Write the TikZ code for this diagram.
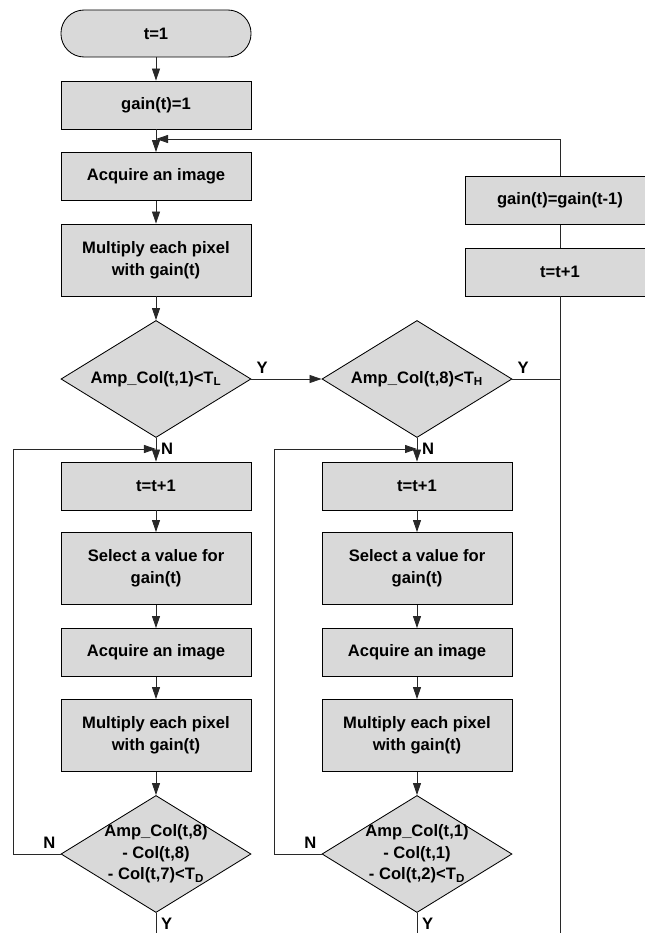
\documentclass[tikz,border=0pt]{standalone}
\usepackage{fontspec}
\setmainfont{Liberation Sans}
\usepackage{color}
\usetikzlibrary{shapes.geometric,arrows.meta}
\definecolor{boxgray}{RGB}{217,217,217}
\definecolor{linegray}{RGB}{40,40,40}

\begin{document}
\begin{tikzpicture}[x=0.025cm, y=-0.025cm, >={Triangle[length=3mm,width=2mm]},
		every node/.style={font=\bfseries\fontsize{11.8}{15.4}\selectfont},
		procbox/.style={draw, line width=0.6pt, fill=boxgray, minimum width=4.75cm, minimum height=1.2cm, inner sep=0pt, align=center},
		tallbox/.style={procbox, minimum height=1.8cm},
		termbox/.style={procbox, minimum height=1.175cm, rounded corners=0.58cm},
		decbox/.style={draw, line width=0.6pt, fill=boxgray, diamond, aspect=1.62, minimum width=4.75cm, minimum height=2.925cm, inner sep=-3pt, align=center},
		flow/.style={draw=linegray, line width=0.6pt}]

								\useasboundingbox (0,0) rectangle (644,933);

								% main column
								\node[termbox] (start) at (156,33.5) {t=1};
								\node[procbox] (gain0) at (156,105) {gain(t)=1};
								\node[procbox] (acq0) at (156,176.5) {Acquire an image};
								\node[tallbox] (mul0) at (156,260) {Multiply each pixel\\with gain(t)};
								\node[decbox] (lowchk) at (156,379) {Amp\_Col(t,1)<T\textsubscript{L}};
								\node[decbox] (highchk) at (417,379) {Amp\_Col(t,8)<T\textsubscript{H}};

								% left branch
								\node[procbox] (incL) at (156,486) {t=t+1};
								\node[tallbox] (selL) at (156,568.5) {Select a value for\\gain(t)};
								\node[procbox] (acqL) at (156,652.5) {Acquire an image};
								\node[tallbox] (mulL) at (156,735.5) {Multiply each pixel\\with gain(t)};
								\node[decbox] (difL) at (156,854) {Amp\_Col(t,8)\\- Col(t,8)\\- Col(t,7)<T\textsubscript{D}};

								% right branch
								\node[procbox] (incR) at (417,486) {t=t+1};
								\node[tallbox] (selR) at (417,568.5) {Select a value for\\gain(t)};
								\node[procbox] (acqR) at (417,652.5) {Acquire an image};
								\node[tallbox] (mulR) at (417,735.5) {Multiply each pixel\\with gain(t)};
								\node[decbox] (difR) at (417,854) {Amp\_Col(t,1)\\- Col(t,1)\\- Col(t,2)<T\textsubscript{D}};

								% hold column
								\node[procbox] (keep) at (560,200.5) {gain(t)=gain(t-1)};
								\node[procbox] (incH) at (560,272) {t=t+1};

								\coordinate (back) at (156,139);
								\coordinate (joinH) at (560,379);
								\coordinate (loopL) at (156,449);
								\coordinate (loopR) at (417,449);
								\coordinate (cornL) at (13,854);
								\coordinate (cornR) at (274,854);
								\coordinate (endL) at (156,933);
								\coordinate (endR) at (417,933);
								\coordinate (endH) at (560,933);

								\draw[flow,->] (start) to (gain0);
								\draw[flow,->] (gain0) to (acq0);
								\draw[flow,->] (acq0) to (mul0);
								\draw[flow,->] (mul0) to (lowchk);
								\draw[flow,->] (lowchk) to node[pos=0, above right] (yl) {Y} (highchk);
								\draw[flow,->] (lowchk) to node[pos=0, below right] (nl) {N} (incL);
								\draw[flow,->] (highchk) to node[pos=0, below right] (nh) {N} (incR);
								\draw[flow] (highchk) to node[pos=0, above right] (yh) {Y} (joinH);

								\draw[flow,->] (incL) to (selL);
								\draw[flow,->] (selL) to (acqL);
								\draw[flow,->] (acqL) to (mulL);
								\draw[flow,->] (mulL) to (difL);
								\draw[flow,->] (incR) to (selR);
								\draw[flow,->] (selR) to (acqR);
								\draw[flow,->] (acqR) to (mulR);
								\draw[flow,->] (mulR) to (difR);

								\draw[flow,->] (difL.west) -- node[pos=0, above left] (nd) {N} (cornL) |- (loopL);
								\draw[flow,->] (difR.west) -- node[pos=0, above left] (ne) {N} (cornR) |- (loopR);
								\draw[flow] (difL.south) -- node[pos=0, below right] (yd) {Y} (endL);
								\draw[flow] (difR.south) -- node[pos=0, below right] (ye) {Y} (endR);

								\draw[flow] (endH) -- (incH);
								\draw[flow] (incH) -- (keep);
								\draw[flow,->] (keep.north) |- (back);

							\end{tikzpicture}
\end{document}
